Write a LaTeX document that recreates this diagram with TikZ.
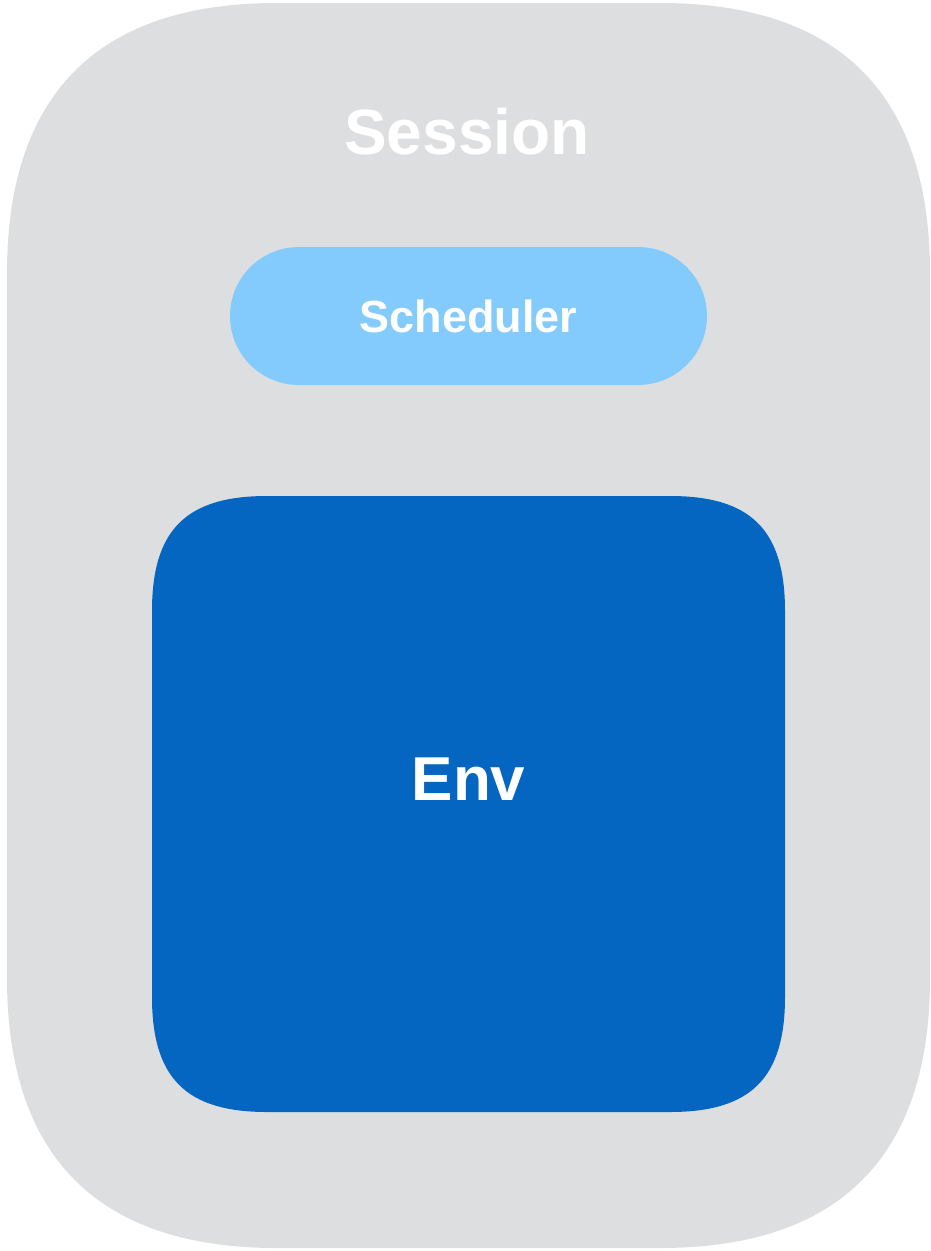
\documentclass[tikz,border=0pt]{standalone}
\usepackage{fontspec}
\setmainfont{Liberation Sans}
\definecolor{sessiongray}{HTML}{DDDEE0}
\definecolor{schedblue}{HTML}{84CBFD}
\definecolor{envblue}{HTML}{0466C0}
% squircle path: x0 y0 x1 y1 R c
\newcommand{\sqpath}[6]{(#1+#5,#2) -- (#3-#5,#2) .. controls (#3-#6,#2) and (#3,#2+#6) .. (#3,#2+#5) -- (#3,#4-#5) .. controls (#3,#4-#6) and (#3-#6,#4) .. (#3-#5,#4) -- (#1+#5,#4) .. controls (#1+#6,#4) and (#1,#4-#6) .. (#1,#4-#5) -- (#1,#2+#5) .. controls (#1,#2+#6) and (#1+#6,#2) .. cycle}
\begin{document}
\begin{tikzpicture}[x=1pt,y=-1pt,
  label text/.style={text=white, inner sep=0pt},
]
\useasboundingbox (0,0) rectangle (930,1251);
\fill[sessiongray] \sqpath{7}{3}{930}{1248}{270}{91};
\node[label text, font=\bfseries\fontsize{64}{76}\selectfont] (session) at (467,132) {Session};
\node[rectangle, fill=schedblue, rounded corners=69pt, minimum width=477pt, minimum height=138pt, inner sep=0pt, text=white, font=\bfseries\fontsize{45}{54}\selectfont] (scheduler) at (468.5,316) {Scheduler};
\fill[envblue] \sqpath{152}{496}{785}{1112}{115}{34};
\node[label text, font=\bfseries\fontsize{62}{74}\selectfont] (env) at (468.5,779) {Env};
\end{tikzpicture}
\end{document}
